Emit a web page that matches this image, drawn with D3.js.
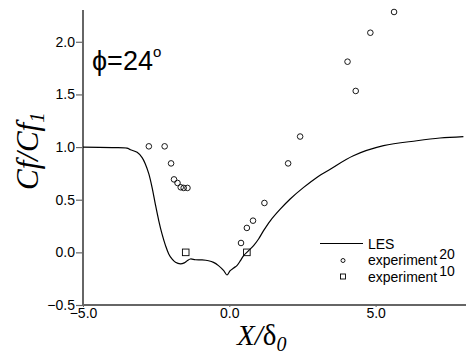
<!DOCTYPE html>
<html><head><meta charset="utf-8">
<script src="https://cdn.jsdelivr.net/npm/d3@7"></script>
<style>body{margin:0;background:#fff}svg{display:block}</style>
</head><body>
<svg id="c" width="466" height="354"></svg>
<script>
const lesX = [-5.0,-4.0,-3.5,-3.38,-3.15,-2.98,-2.87,-2.75,-2.64,-2.53,-2.41,-2.30,-2.18,-2.07,-1.96,-1.84,-1.67,-1.54,-1.44,-1.33,-1.16,-0.93,-0.71,-0.54,-0.37,-0.19,-0.08,0.03,0.15,0.26,0.38,0.49,0.66,0.83,1.00,1.17,1.40,1.74,2.08,2.54,2.99,3.45,4.24,5.27,6.41,7.2,8.0];
const lesY = [1.0,0.995,0.99,0.975,0.95,0.90,0.84,0.745,0.617,0.46,0.30,0.175,0.064,-0.015,-0.063,-0.095,-0.11,-0.10,-0.08,-0.063,-0.07,-0.072,-0.08,-0.095,-0.126,-0.174,-0.215,-0.174,-0.148,-0.126,-0.079,-0.031,0.016,0.064,0.127,0.206,0.30,0.41,0.507,0.617,0.712,0.79,0.918,1.013,1.06,1.086,1.10];
const exp20X = [-2.75,-2.21,-1.99,-1.89,-1.77,-1.66,-1.56,-1.43,0.40,0.60,0.81,1.20,2.01,2.42,4.04,4.32,4.82,5.63];
const exp20Y = [1.007,1.007,0.845,0.693,0.659,0.618,0.612,0.612,0.089,0.232,0.301,0.469,0.845,1.10,1.811,1.533,2.086,2.283];
const exp10X = [-1.49,0.60];
const exp10Y = [0.0,0.0];
const xTicks = [-5.0,0.0,5.0];
const yTicks = [-0.5,0.0,0.5,1.0,1.5,2.0];

const svg = d3.select("#c");
const x = d3.scaleLinear().domain([-5,8]).range([83,463.4]);
const y = d3.scaleLinear().domain([-0.5,2.3]).range([305,10.2]);
const fmt = d3.format(".1f");
const axisColor = "#666";

// axes
const gx = svg.append("g").attr("transform","translate(0,305)")
  .call(d3.axisBottom(x).tickValues(xTicks).tickFormat(fmt).tickSize(2).tickSizeOuter(0).tickPadding(1));
gx.select(".domain").attr("stroke",axisColor).attr("stroke-width",2).attr("d","M83,0H466");
gx.selectAll(".tick line").attr("stroke",axisColor);
gx.selectAll("text").attr("font-family","'Liberation Sans',Arial,sans-serif").attr("font-size",14).attr("fill","#000");

const gy = svg.append("g").attr("transform","translate(83,0)")
  .call(d3.axisLeft(y).tickValues(yTicks).tickFormat(fmt).tickSize(7).tickSizeOuter(0).tickPadding(1));
gy.select(".domain").attr("stroke",axisColor).attr("stroke-width",2).attr("d","M0,10V305");
gy.selectAll(".tick line").attr("stroke",axisColor).attr("stroke-width",1.2);
gy.selectAll("text").attr("font-family","'Liberation Sans',Arial,sans-serif").attr("font-size",14).attr("fill","#000");

// LES line
const line = d3.line().x(d=>x(d[0])).y(d=>y(d[1])).curve(d3.curveCatmullRom);
svg.append("path").datum(lesX.map((v,i)=>[v,lesY[i]]))
  .attr("d",line).attr("fill","none").attr("stroke","#000").attr("stroke-width",1.2);

// experiment 20 circles
svg.append("g").selectAll("circle").data(exp20X.map((v,i)=>[v,exp20Y[i]])).join("circle")
  .attr("cx",d=>x(d[0])).attr("cy",d=>y(d[1])).attr("r",2.8)
  .attr("fill","none").attr("stroke","#000").attr("stroke-width",0.9);

// experiment 10 squares
svg.append("g").selectAll("rect").data(exp10X.map((v,i)=>[v,exp10Y[i]])).join("rect")
  .attr("x",d=>x(d[0])-3.3).attr("y",d=>y(d[1])-3.3).attr("width",6.6).attr("height",6.6)
  .attr("fill","none").attr("stroke","#000").attr("stroke-width",0.9);

// legend
const lg = svg.append("g").attr("font-family","'Liberation Sans',Arial,sans-serif").attr("font-size",14);
lg.append("line").attr("x1",320).attr("x2",363).attr("y1",243.5).attr("y2",243.5).attr("stroke","#000").attr("stroke-width",1.2);
lg.append("text").attr("x",368).attr("y",248.5).text("LES");
lg.append("circle").attr("cx",343).attr("cy",260.5).attr("r",2).attr("fill","none").attr("stroke","#000").attr("stroke-width",0.9);
const t1 = lg.append("text").attr("x",368).attr("y",265).text("experiment");
t1.append("tspan").attr("dx",2).attr("dy",-6).text("20");
lg.append("rect").attr("x",340.5).attr("y",274).attr("width",5).attr("height",5).attr("fill","none").attr("stroke","#000").attr("stroke-width",0.9);
const t2 = lg.append("text").attr("x",368).attr("y",281.5).text("experiment");
t2.append("tspan").attr("dx",2).attr("dy",-6).text("10");

// phi annotation
const ph = svg.append("text").attr("x",92).attr("y",70).attr("font-family","'Liberation Sans',Arial,sans-serif").attr("font-size",27).text("ϕ=24");
ph.append("tspan").attr("font-size",15).attr("dy",-13).text("o");

// axis titles
const xt = svg.append("text").attr("x",237).attr("y",345).attr("font-family","'Liberation Serif','Times New Roman',serif").attr("font-size",29);
xt.append("tspan").attr("font-style","italic").text("X/");
xt.append("tspan").text("δ");
xt.append("tspan").attr("font-style","italic").attr("font-size",20).attr("dy",6).text("0");

const yt = svg.append("text").attr("transform","translate(38,190) rotate(-90)").attr("font-family","'Liberation Serif','Times New Roman',serif").attr("font-size",31).attr("font-style","italic");
yt.append("tspan").text("Cf/Cf");
yt.append("tspan").attr("font-size",21).attr("dy",6).text("1");
</script>
</body></html>
